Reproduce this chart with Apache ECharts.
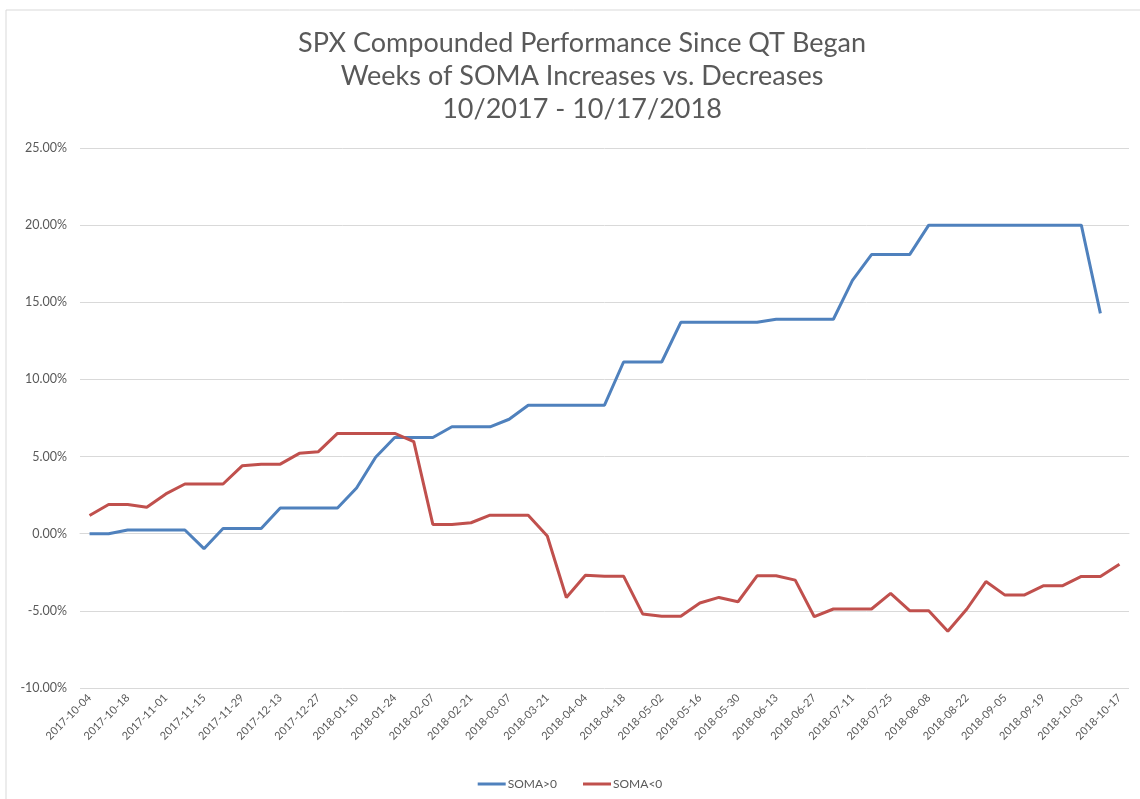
<!DOCTYPE html>
<html>
<head>
<meta charset="utf-8">
<script src="https://cdn.jsdelivr.net/npm/echarts@6/dist/echarts.min.js"></script>
<style>
  html, body { margin: 0; padding: 0; background: #fff; }
  #chart { width: 1140px; height: 799px; }
</style>
</head>
<body>
<div id="chart"></div>
<script>
// weekly dates since QT began
var weeks = [
  '2017-10-04', '2017-10-11', '2017-10-18', '2017-10-25', '2017-11-01', '2017-11-08', '2017-11-15',
  '2017-11-22', '2017-11-29', '2017-12-06', '2017-12-13', '2017-12-20', '2017-12-27', '2018-01-03',
  '2018-01-10', '2018-01-17', '2018-01-24', '2018-01-31', '2018-02-07', '2018-02-14', '2018-02-21',
  '2018-02-28', '2018-03-07', '2018-03-14', '2018-03-21', '2018-03-28', '2018-04-04', '2018-04-11',
  '2018-04-18', '2018-04-25', '2018-05-02', '2018-05-09', '2018-05-16', '2018-05-23', '2018-05-30',
  '2018-06-06', '2018-06-13', '2018-06-20', '2018-06-27', '2018-07-04', '2018-07-11', '2018-07-18',
  '2018-07-25', '2018-08-01', '2018-08-08', '2018-08-15', '2018-08-22', '2018-08-29', '2018-09-05',
  '2018-09-12', '2018-09-19', '2018-09-26', '2018-10-03', '2018-10-10', '2018-10-17'
]

// compounded performance, percent
var somaUp = [
  0.00, 0.00, 0.24, 0.24, 0.24, 0.24, -0.97, 0.34, 0.34, 0.34, 1.67,
  1.67, 1.67, 1.67, 2.96, 4.96, 6.24, 6.24, 6.24, 6.93, 6.93, 6.93,
  7.42, 8.33, 8.33, 8.33, 8.33, 8.33, 11.13, 11.13, 11.13, 13.70, 13.70,
  13.70, 13.70, 13.70, 13.90, 13.90, 13.90, 13.90, 16.42, 18.09, 18.09, 18.09,
  20.00, 20.00, 20.00, 20.00, 20.00, 20.00, 20.00, 20.00, 20.00, 14.28, null
]
var somaDown = [
  1.18, 1.89, 1.89, 1.72, 2.58, 3.22, 3.22, 3.22, 4.40, 4.51, 4.51,
  5.21, 5.32, 6.50, 6.50, 6.50, 6.50, 5.97, 0.60, 0.60, 0.71, 1.20,
  1.20, 1.20, -0.15, -4.13, -2.69, -2.75, -2.75, -5.20, -5.35, -5.35, -4.49,
  -4.13, -4.41, -2.73, -2.73, -3.01, -5.38, -4.88, -4.88, -4.88, -3.87, -4.99,
  -4.99, -6.32, -4.88, -3.10, -3.98, -3.98, -3.38, -3.38, -2.77, -2.77, -1.98
]

var titleLines = [
  'SPX Compounded Performance Since QT Began',
  'Weeks of SOMA Increases vs. Decreases',
  '10/2017 - 10/17/2018'
]

var chart = echarts.init(document.getElementById('chart'))

chart.setOption({
  animation: false,
  textStyle: { fontFamily: 'Lato, "Open Sans", sans-serif' },
  graphic: [{
    type: 'rect',
    shape: { x: 6, y: 10, width: 1150, height: 800 },
    style: { fill: 'none', stroke: '#d9d9d9', lineWidth: 1 },
    silent: true
  }],
  title: {
    text: titleLines.join('\n'),
    left: 577,
    top: 22,
    textAlign: 'center',
    textStyle: {
      color: '#595959',
      fontSize: 27,
      fontWeight: 'normal',
      lineHeight: 33
    }
  },
  grid: {
    left: 80,
    right: 11,
    top: 148,
    bottom: 111
  },
  legend: {
    bottom: 4,
    left: 'center',
    icon: 'rect',
    itemWidth: 28,
    itemHeight: 3,
    itemGap: 26,
    textStyle: { color: '#595959', fontSize: 12, padding: [0, 0, 0, -3] },
    data: ['SOMA>0', 'SOMA<0']
  },
  xAxis: {
    type: 'category',
    data: weeks,
    boundaryGap: true,
    axisTick: { show: false },
    axisLine: { lineStyle: { color: '#d9d9d9' } },
    axisLabel: {
      interval: 1,
      rotate: 45,
      color: '#595959',
      fontSize: 11,
      margin: 8
    }
  },
  yAxis: {
    type: 'value',
    min: -10,
    max: 25,
    interval: 5,
    axisLine: { show: false },
    axisTick: { show: false },
    splitLine: { lineStyle: { color: '#d9d9d9' } },
    axisLabel: {
      color: '#595959',
      fontSize: 12.5,
      margin: 13,
      formatter: function (v) { return v.toFixed(2) + '%' }
    }
  },
  series: [{
    name: 'SOMA>0',
    type: 'line',
    data: somaUp,
    symbol: 'none',
    lineStyle: { color: '#4f81bd', width: 3 },
    itemStyle: { color: '#4f81bd' }
  }, {
    name: 'SOMA<0',
    type: 'line',
    data: somaDown,
    symbol: 'none',
    lineStyle: { color: '#c0504d', width: 3 },
    itemStyle: { color: '#c0504d' }
  }]
})
</script>
</body>
</html>
